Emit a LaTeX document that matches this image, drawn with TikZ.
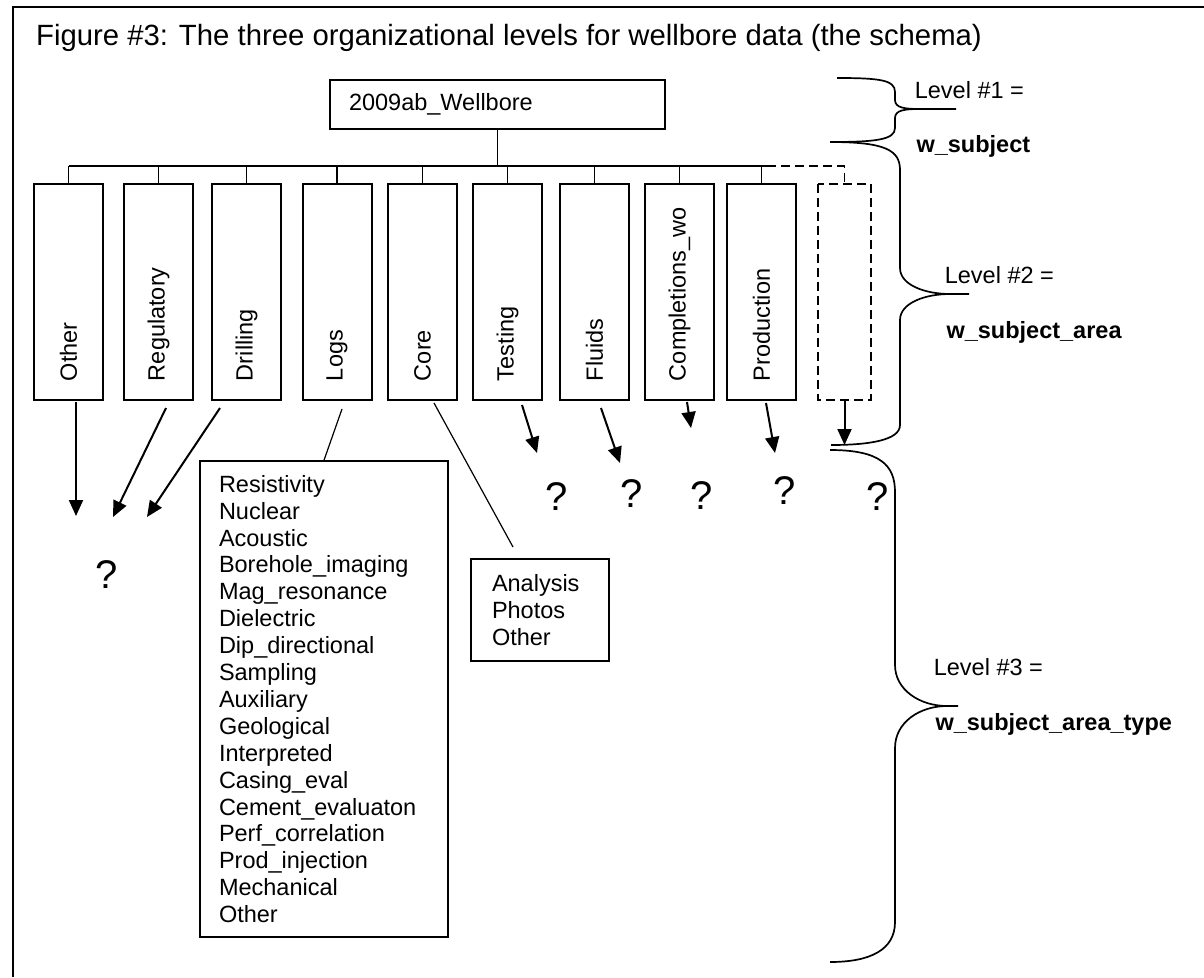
\documentclass[tikz,border=0pt]{standalone}
\usepackage{fontspec}
\setmainfont{Liberation Sans}
\usetikzlibrary{arrows.meta, positioning}

\begin{document}
\begin{tikzpicture}[
    x=1pt, y=-1pt,
    txt/.style={font=\fontsize{23.5}{26.9}\selectfont},
    topbox/.style={draw, line width=1.5pt, align=left, inner ysep=0pt, txt},
    catbox/.style={draw, line width=2pt, rotate=90, minimum width=216pt, minimum height=69pt,
      text width=178pt, inner xsep=19pt, inner ysep=0pt, align=left, txt},
    listbox/.style={draw, line width=1.6pt, align=left, inner xsep=19pt, inner ysep=0pt, txt},
    bus/.style={line width=1.5pt},
    arrow/.style={-{Triangle[length=16pt, width=14pt]}, line width=2pt},
    link/.style={line width=1.2pt},
    brace/.style={line width=1.7pt},
    qmark/.style={anchor=base, font=\fontsize{40}{40}\selectfont},
    lvl/.style={anchor=base west, txt},
    lvlname/.style={anchor=base west, font=\fontsize{23.5}{26.9}\selectfont\bfseries}
  ]
  \useasboundingbox (0,0) rectangle (1204,977);
  \draw[line width=2pt] (13,977) -- (13,7) -- (1204,7);

  \node[anchor=base west, font=\fontsize{29.3}{32}\selectfont] (title) at (32.7,45)
    {Figure \#3: The three organizational levels for wellbore data (the schema)};

  % level 1
  \node[topbox, minimum width=335pt, minimum height=49pt, text width=297pt, inner xsep=19pt]
    (wellbore) at (497.5,104.5) {2009ab\_Wellbore};

  % level 2 (rotated: east = top, west = bottom)
  \node[catbox] (other) at (68.5,292) {Other};
  \node[catbox] (regulatory) at (158.5,292) {Regulatory};
  \node[catbox] (drilling) at (246.5,292) {Drilling};
  \node[catbox] (logs) at (337,292) {Logs};
  \node[catbox] (core) at (422.5,292) {Core};
  \node[catbox] (testing) at (507.5,292) {Testing};
  \node[catbox] (fluids) at (594.5,292) {Fluids};
  \node[catbox] (completions) at (679.5,292) {Completions\_wo};
  \node[catbox] (production) at (761.5,292) {Production};
  \node[catbox, dash pattern=on 9pt off 5pt, minimum height=53pt] (extra) at (844.5,292) {};

  \coordinate (hub) at (497.5,166);
  \coordinate (busend) at (767,166);
  \draw[bus] (wellbore.south) -- (hub);
  \draw[bus] (other.east |- hub) -- (busend);
  \foreach \n in {other,regulatory,drilling,logs,core,testing,fluids,completions,production}
    \draw[bus] (\n.east) -- (\n.east |- hub);
  \draw[bus, dash pattern=on 9pt off 5pt] (busend) -| (extra.east);

  % level 3
  \node[listbox, minimum width=248pt, minimum height=476pt, text width=210pt] (logslist) at (324,699)
    {Resistivity\\Nuclear\\Acoustic\\Borehole\_imaging\\Mag\_resonance\\Dielectric\\Dip\_directional\\Sampling\\Auxiliary\\Geological\\Interpreted\\Casing\_eval\\Cement\_evaluaton\\Perf\_correlation\\Prod\_injection\\Mechanical\\Other};
  \node[listbox, inner xsep=21pt, minimum width=138pt, minimum height=102pt, text width=96pt] (corelist) at (540,610)
    {Analysis\\Photos\\Other};

  \node[qmark] (q0) at (107,588) {?};
  \node[qmark] (q1) at (557,510) {?};
  \node[qmark] (q2) at (632,507) {?};
  \node[qmark] (q3) at (702,509) {?};
  \node[qmark] (q4) at (785,504) {?};
  \node[qmark] (q5) at (878,510) {?};

  \coordinate (otherend) at (76,516);
  \coordinate (regend) at (113,517);
  \coordinate (drillend) at (147,517);
  \coordinate (coreend) at (513,547);
  \coordinate (testend) at (537,453);
  \coordinate (fluidend) at (620,463);
  \coordinate (complend) at (691,428);
  \coordinate (prodend) at (775,453);
  \coordinate (extraend) at (844.5,445);

  \draw[arrow] ([shift={(7.5,1)}]other.west) -- (otherend);
  \draw[arrow] ([shift={(7.5,7)}]regulatory.west) -- (regend);
  \draw[arrow] ([shift={(-26.5,7)}]drilling.west) -- (drillend);
  \draw[link] ([shift={(5,8)}]logs.west) -- (logslist.north);
  \draw[link] ([shift={(11.5,2)}]core.west) -- (coreend);
  \draw[arrow] ([shift={(14.5,4)}]testing.west) -- (testend);
  \draw[arrow] ([shift={(6.5,7)}]fluids.west) -- (fluidend);
  \draw[arrow] ([shift={(7.5,1)}]completions.west) -- (complend);
  \draw[arrow] ([shift={(4.5,2)}]production.west) -- (prodend);
  \draw[arrow] (extra.west) -- (extraend);

  % braces and level names
  \draw[brace] (837,78) .. controls (880,78) and (895,80) .. (895,92) -- (895,100)
    .. controls (895,108) and (905,109) .. (920,109) -- (956,109)
    (920,109) .. controls (905,109) and (895,110) .. (895,118) -- (895,128)
    .. controls (895,140) and (875,142) .. (830,142);
  \draw[brace] (830,142) .. controls (885,142) and (900,150) .. (900,170) -- (900,268)
    .. controls (900,285) and (925,294) .. (950,294) -- (969,294)
    (950,294) .. controls (925,294) and (900,303) .. (900,320) -- (900,425)
    .. controls (900,440) and (870,445) .. (831,445);
  \draw[brace] (830,450) .. controls (880,450) and (895,465) .. (895,492) -- (895,665)
    .. controls (895,690) and (920,706) .. (947,706) -- (958,706)
    (947,706) .. controls (920,706) and (895,722) .. (895,748) -- (895,922)
    .. controls (895,950) and (870,962) .. (830,962);

  \node[lvl] (lvl1) at (911.3,98) {Level \#1 =};
  \node[lvlname] (name1) at (913,152) {w\_subject};
  \node[lvl] (lvl2) at (941.3,283) {Level \#2 =};
  \node[lvlname] (name2) at (943,338) {w\_subject\_area};
  \node[lvl] (lvl3) at (930.3,675) {Level \#3 =};
  \node[lvlname] (name3) at (932,730) {w\_subject\_area\_type};
\end{tikzpicture}
\end{document}
